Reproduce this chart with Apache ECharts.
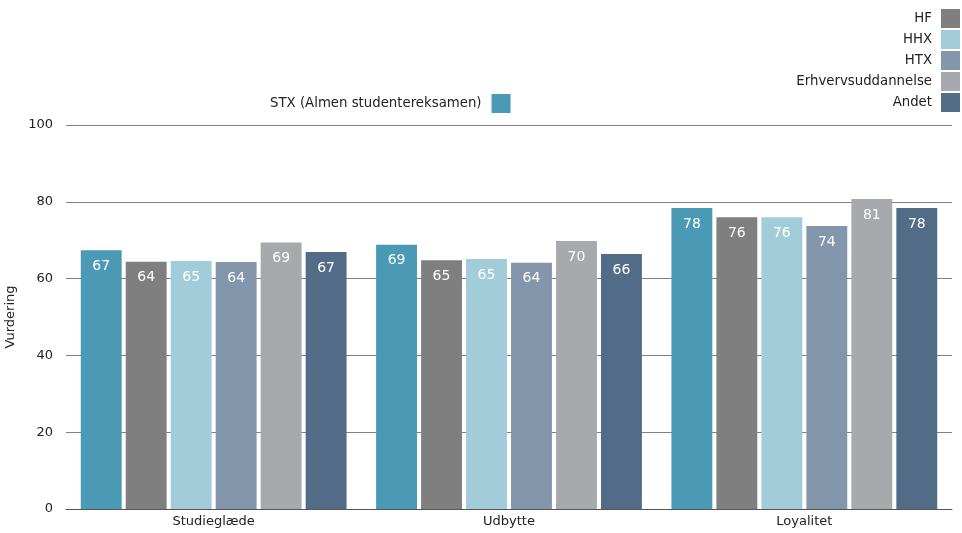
<!DOCTYPE html>
<html><head><meta charset="utf-8">
<script src="https://cdn.jsdelivr.net/npm/echarts@6/dist/echarts.min.js"></script>
<style>html,body{margin:0;padding:0;background:#fff}#c{width:962px;height:533px}</style>
</head><body><div id="c"></div>
<script>
const categories = ["Studieglæde", "Udbytte", "Loyalitet"];
const seriesNames = ["STX (Almen studentereksamen)", "HF", "HHX", "HTX", "Erhvervsuddannelse", "Andet"];
const stx = [67.4, 68.8, 78.4];
const hf = [64.4, 64.8, 76.0];
const hhx = [64.6, 65.1, 76.0];
const htx = [64.3, 64.1, 73.7];
const erhverv = [69.4, 69.8, 80.7];
const andet = [66.9, 66.4, 78.4];
const yTicks = [0, 20, 40, 60, 80, 100];

const colors = ["#4A9AB5", "#7F7F7F", "#A3CCDA", "#8496AB", "#A8A9AD", "#526C88"];
const values = [stx, hf, hhx, htx, erhverv, andet];
const font = "DejaVu Sans";

const chart = echarts.init(document.getElementById('c'));
chart.setOption({
  animation: false,
  textStyle: {fontFamily: font},
  legend: [
    {data: seriesNames.slice(1), orient: 'vertical', right: 2, top: 9, align: 'right',
     padding: 0, itemWidth: 19, itemHeight: 19, itemGap: 2, icon: 'rect',
     textStyle: {fontFamily: font, fontSize: 13.3, color: '#222', padding: [0, 4, 0, 0]}},
    {data: [seriesNames[0]], left: 270, top: 94, align: 'right', padding: 0,
     itemWidth: 19, itemHeight: 19, icon: 'rect',
     textStyle: {fontFamily: font, fontSize: 13.3, color: '#222', padding: [0, 5, 0, 0]}}
  ],
  grid: {left: 66, right: 10, top: 125, bottom: 24, outerBoundsMode: 'none', containLabel: false},
  xAxis: {
    type: 'category', data: categories,
    axisLine: {lineStyle: {color: '#555', width: 1}},
    axisTick: {show: false},
    axisLabel: {color: '#222', fontSize: 13, fontFamily: font, margin: 6}
  },
  yAxis: {
    type: 'value', min: 0, max: 100, interval: 20,
    name: 'Vurdering', nameLocation: 'middle', nameGap: 33, nameRotate: 90,
    nameTextStyle: {color: '#222', fontSize: 13, fontFamily: font},
    axisLabel: {color: '#222', fontSize: 13, fontFamily: font, margin: 13,
      formatter: v => yTicks.includes(v) ? String(v) : ''},
    splitLine: {lineStyle: {color: '#808080', width: 1}},
    axisLine: {show: false}, axisTick: {show: false}
  },
  series: seriesNames.map((n, i) => ({
    name: n, type: 'bar', data: values[i],
    itemStyle: {color: colors[i]},
    barGap: '10%', barCategoryGap: '10%',
    label: {show: true, position: 'insideTop', distance: 9, color: '#fff',
      fontSize: 14, fontFamily: font, formatter: p => Math.round(p.value)}
  }))
});
</script></body></html>
